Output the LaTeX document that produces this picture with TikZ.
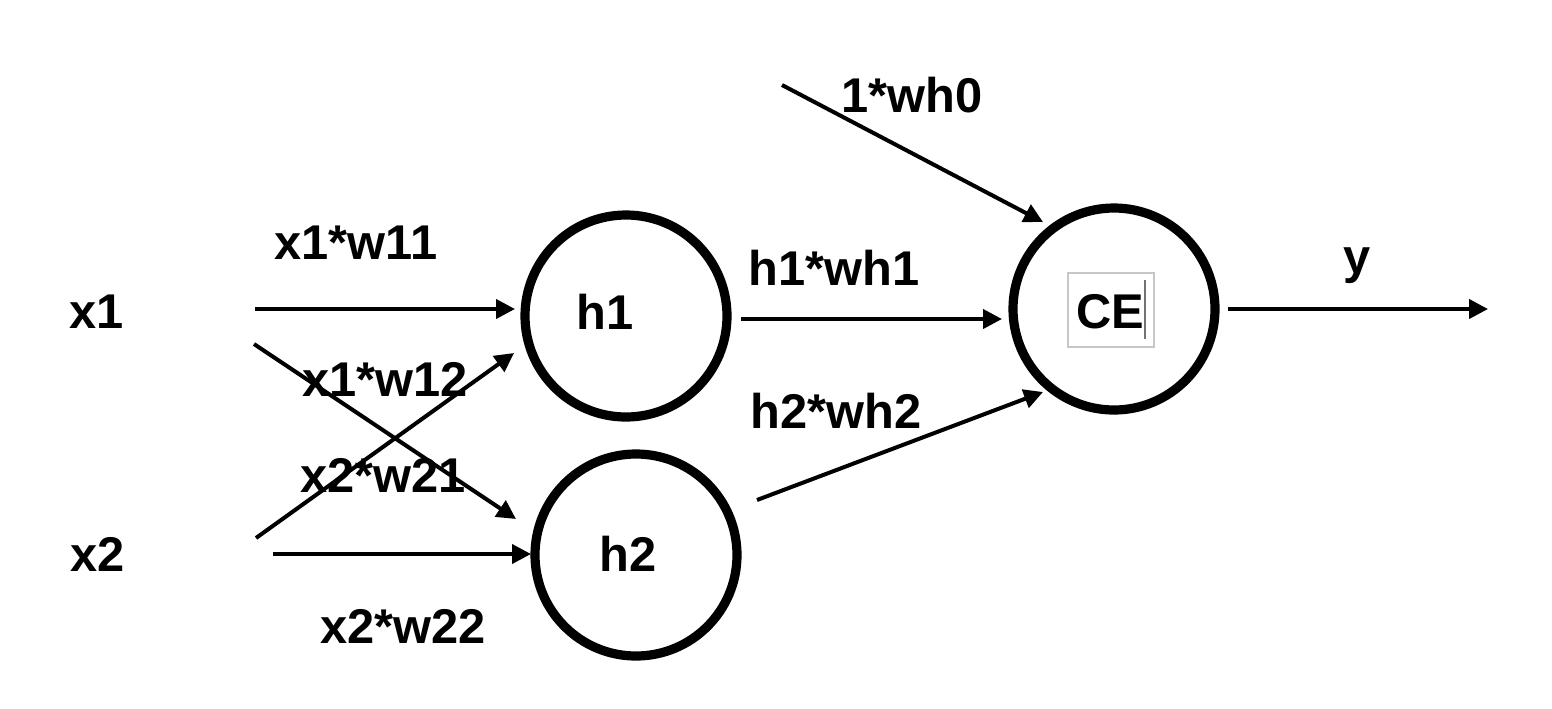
\documentclass[tikz,border=0pt]{standalone}
\usepackage{fontspec}
\setmainfont{Liberation Sans}
\usetikzlibrary{arrows.meta}
\begin{document}
\begin{tikzpicture}[x=0.5pt,y=-0.5pt,
  neuron/.style={circle, draw, line width=4.6pt, minimum size=101pt, inner sep=0pt},
  lbl/.style={font=\fontsize{24.4}{29}\selectfont\bfseries, anchor=base, inner sep=0pt},
  conn/.style={line width=2pt, -{Triangle[length=9.5pt,width=9.5pt]}}]
\useasboundingbox (0,0) rectangle (1552,708);
\fill[white] (0,0) rectangle (1552,708);

% neurons
\node[neuron] (h1) at (626,316) {};
\node[neuron] (h2) at (636,555) {};
\node[neuron] (ce) at (1114,309) {};

% editing box inside CE
\node[draw=black!22, line width=0.8pt, minimum width=43pt, minimum height=37pt, inner sep=0pt] (cebox) at (1111,310) {};
\coordinate (cur1) at (1145,280);
\coordinate (cur2) at (1145,339);
\draw[black!55, line width=0.6pt] (cur1) -- (cur2);

% labels
\node[lbl] (tx1) at (97,328) {x1};
\node[lbl] (tx2) at (98,571) {x2};
\node[lbl] (th1) at (605,329) {h1};
\node[lbl] (th2) at (628,571) {h2};
\node[lbl] (tce) at (1110,328) {CE};
\node[lbl] (ty) at (1357,273) {y};
\node[lbl] (w11) at (356,259) {x1*w11};
\node[lbl] (w12) at (385,396) {x1*w12};
\node[lbl] (w21) at (383,492) {x2*w21};
\node[lbl] (w22) at (403,643) {x2*w22};
\node[lbl] (wh1) at (834,285) {h1*wh1};
\node[lbl] (wh2) at (836,428) {h2*wh2};
\node[lbl] (wh0) at (912,112) {1*wh0};

% connector end points
\coordinate (a1s) at (255,309);  \coordinate (a1e) at (515,309);
\coordinate (a2s) at (254,344);  \coordinate (a2e) at (516,519);
\coordinate (a3s) at (256,538);  \coordinate (a3e) at (514,353);
\coordinate (a4s) at (273,554);  \coordinate (a4e) at (531,554);
\coordinate (a5s) at (741,319);  \coordinate (a5e) at (1002,319);
\coordinate (a6s) at (757,500);  \coordinate (a6e) at (1043,392);
\coordinate (a7s) at (782,85);   \coordinate (a7e) at (1043,222);
\coordinate (a8s) at (1228,309); \coordinate (a8e) at (1488,309);

\draw[conn] (a1s) -- (a1e);
\draw[conn] (a2s) -- (a2e);
\draw[conn] (a3s) -- (a3e);
\draw[conn] (a4s) -- (a4e);
\draw[conn] (a5s) -- (a5e);
\draw[conn] (a6s) -- (a6e);
\draw[conn] (a7s) -- (a7e);
\draw[conn] (a8s) -- (a8e);
\end{tikzpicture}
\end{document}
